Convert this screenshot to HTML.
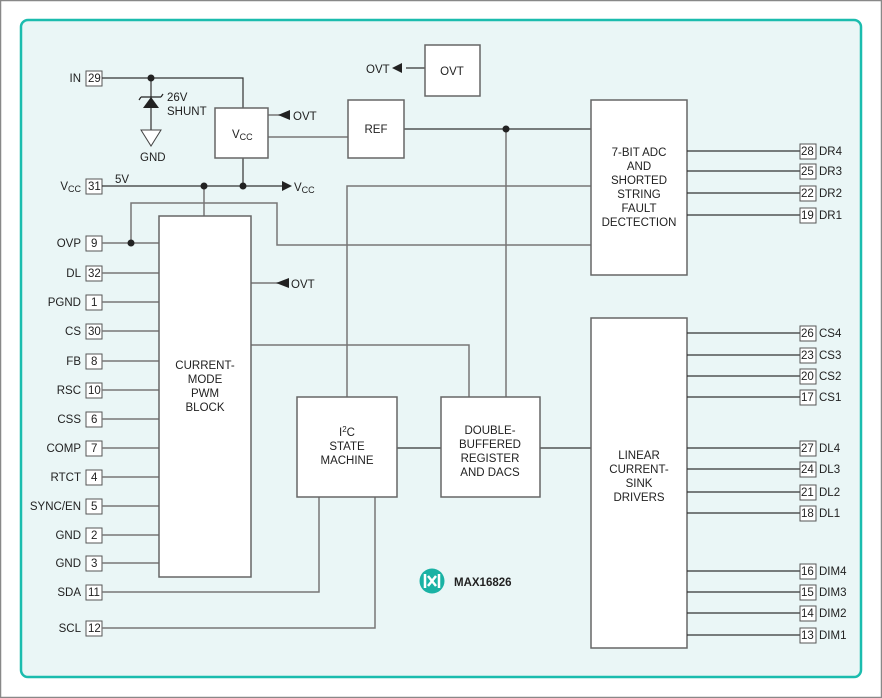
<!DOCTYPE html>
<html><head><meta charset="utf-8"><style>
html,body{margin:0;padding:0;background:#fff}
svg{display:block}
text{font-family:"Liberation Sans",sans-serif;font-size:11.5px;fill:#222}
.b{fill:#fff;stroke:#666;stroke-width:1.5}
.l{stroke:#333;stroke-width:1.2;fill:none}
.g{stroke:#777;stroke-width:1.5;fill:none}
.p{fill:#fff;stroke:#555;stroke-width:1}
</style></head><body>
<svg width="882" height="698" viewBox="0 0 882 698" xmlns="http://www.w3.org/2000/svg">
<rect x="0.5" y="0.5" width="881" height="697" fill="#fff" stroke="#888" stroke-width="1.5"/>
<rect x="21" y="20" width="840" height="657" rx="7" fill="#eaf6f6" stroke="#1bbcae" stroke-width="2.5"/>

<g>
<rect class="p" x="86" y="71" width="16" height="15"/><text x="81" y="82" text-anchor="end">IN</text><text x="88" y="82">29</text>
<rect class="p" x="86" y="179" width="16" height="15"/><text x="81" y="190" text-anchor="end">V<tspan font-size="9" dy="2">CC</tspan></text><text x="88" y="190">31</text>
<rect class="p" x="86" y="236" width="16" height="15"/><text x="81" y="247" text-anchor="end">OVP</text><text x="91" y="247">9</text>
<rect class="p" x="86" y="266" width="16" height="15"/><text x="81" y="277" text-anchor="end">DL</text><text x="88" y="277">32</text>
<rect class="p" x="86" y="295" width="16" height="15"/><text x="81" y="306" text-anchor="end">PGND</text><text x="91" y="306">1</text>
<rect class="p" x="86" y="324" width="16" height="15"/><text x="81" y="335" text-anchor="end">CS</text><text x="88" y="335">30</text>
<rect class="p" x="86" y="354" width="16" height="15"/><text x="81" y="365" text-anchor="end">FB</text><text x="91" y="365">8</text>
<rect class="p" x="86" y="383" width="16" height="15"/><text x="81" y="394" text-anchor="end">RSC</text><text x="88" y="394">10</text>
<rect class="p" x="86" y="412" width="16" height="15"/><text x="81" y="423" text-anchor="end">CSS</text><text x="91" y="423">6</text>
<rect class="p" x="86" y="441" width="16" height="15"/><text x="81" y="452" text-anchor="end">COMP</text><text x="91" y="452">7</text>
<rect class="p" x="86" y="470" width="16" height="15"/><text x="81" y="481" text-anchor="end">RTCT</text><text x="91" y="481">4</text>
<rect class="p" x="86" y="499" width="16" height="15"/><text x="81" y="510" text-anchor="end">SYNC/EN</text><text x="91" y="510">5</text>
<rect class="p" x="86" y="528" width="16" height="15"/><text x="81" y="539" text-anchor="end">GND</text><text x="91" y="539">2</text>
<rect class="p" x="86" y="556" width="16" height="15"/><text x="81" y="567" text-anchor="end">GND</text><text x="91" y="567">3</text>
<rect class="p" x="86" y="585" width="16" height="15"/><text x="81" y="596" text-anchor="end">SDA</text><text x="88" y="596">11</text>
<rect class="p" x="86" y="621" width="16" height="15"/><text x="81" y="632" text-anchor="end">SCL</text><text x="88" y="632">12</text>
</g>
<g class="g">
<path d="M102 243H159M102 273H159M102 302H159M102 331H159M102 361H159M102 390H159M102 419H159M102 448H159M102 477H159M102 506H159M102 535H159M102 563H159"/>
<path d="M102 592H319V497M102 628H375V497"/>
<path d="M131 243V203H277V245H591"/>
<path d="M204 186V216"/>
<path d="M251 345H469V397"/>
<path d="M347 397V186H591"/>
<path d="M506 129V397"/>
<path d="M268 137H348"/>
<path d="M251 283H278M268 115H280"/>
</g>
<g class="l">
<path d="M102 78H243V108M151 78V130"/>
<path d="M102 186H282M243 158V186"/>
<path d="M404 129H591"/>
<path d="M397 448H441M540 448H591"/>
<path d="M406 68H425"/>
</g>
<polygon points="143,108 159,108 151,97" fill="#222"/>
<path d="M141 97H161M141 97l-2 3M161 97l2-3" stroke="#222" stroke-width="1.2" fill="none"/>
<polygon points="141,130 161,130 151,146" fill="#fff" stroke="#444" stroke-width="1"/>
<text x="167" y="101">26V</text><text x="167" y="115">SHUNT</text>
<text x="140" y="161">GND</text>
<g fill="#222"><circle cx="151" cy="78" r="3.5"/><circle cx="204" cy="186" r="3.5"/><circle cx="243" cy="186" r="3.5"/><circle cx="131" cy="243" r="3.5"/><circle cx="506" cy="129" r="3.5"/></g>
<polygon points="282,181 282,191 292,186" fill="#222"/>
<text x="294" y="191">V<tspan font-size="9" dy="2">CC</tspan></text>
<text x="115" y="183">5V</text>
<polygon points="290,110 290,120 278,115" fill="#222"/><text x="293" y="120">OVT</text>
<polygon points="289,278 289,288 276,283" fill="#222"/><text x="291" y="288">OVT</text>
<polygon points="402,63 402,73 392,68" fill="#222"/><text x="366" y="73">OVT</text>
<rect class="b" x="159" y="216" width="92" height="361"/>
<text text-anchor="middle" x="205" y="369">CURRENT-</text><text text-anchor="middle" x="205" y="383">MODE</text><text text-anchor="middle" x="205" y="397">PWM</text><text text-anchor="middle" x="205" y="411">BLOCK</text>
<rect class="b" x="215" y="108" width="53" height="50"/>
<text x="232" y="138">V<tspan font-size="9" dy="2">CC</tspan></text>
<rect class="b" x="348" y="100" width="56" height="58"/><text x="376" y="133" text-anchor="middle">REF</text>
<rect class="b" x="425" y="45" width="55" height="51"/><text x="452" y="75" text-anchor="middle">OVT</text>
<rect class="b" x="591" y="100" width="96" height="175"/>
<g text-anchor="middle"><text x="639" y="156">7-BIT ADC</text><text x="639" y="170">AND</text><text x="639" y="184">SHORTED</text><text x="639" y="198">STRING</text><text x="639" y="212">FAULT</text><text x="639" y="226">DECTECTION</text></g>
<rect class="b" x="591" y="318" width="96" height="330"/>
<g text-anchor="middle"><text x="639" y="459">LINEAR</text><text x="639" y="473">CURRENT-</text><text x="639" y="487">SINK</text><text x="639" y="501">DRIVERS</text></g>
<rect class="b" x="297" y="397" width="100" height="100"/>
<g text-anchor="middle"><text x="347" y="436">I<tspan font-size="8" dy="-4">2</tspan><tspan dy="4">C</tspan></text><text x="347" y="450">STATE</text><text x="347" y="464">MACHINE</text></g>
<rect class="b" x="441" y="397" width="99" height="100"/>
<g text-anchor="middle"><text x="490" y="434">DOUBLE-</text><text x="490" y="448">BUFFERED</text><text x="490" y="462">REGISTER</text><text x="490" y="476">AND DACS</text></g>
<g class="l"><path d="M687 151H800M687 171H800M687 193H800M687 215H800M687 333H800M687 355H800M687 376H800M687 397H800M687 448H800M687 469H800M687 492H800M687 513H800M687 571H800M687 592H800M687 613H800M687 635H800"/></g>
<g>
<rect class="p" x="800" y="144" width="16" height="15"/><text x="801" y="155">28</text><text x="819" y="155">DR4</text>
<rect class="p" x="800" y="164" width="16" height="15"/><text x="801" y="175">25</text><text x="819" y="175">DR3</text>
<rect class="p" x="800" y="186" width="16" height="15"/><text x="801" y="197">22</text><text x="819" y="197">DR2</text>
<rect class="p" x="800" y="208" width="16" height="15"/><text x="801" y="219">19</text><text x="819" y="219">DR1</text>
<rect class="p" x="800" y="326" width="16" height="15"/><text x="801" y="337">26</text><text x="819" y="337">CS4</text>
<rect class="p" x="800" y="348" width="16" height="15"/><text x="801" y="359">23</text><text x="819" y="359">CS3</text>
<rect class="p" x="800" y="369" width="16" height="15"/><text x="801" y="380">20</text><text x="819" y="380">CS2</text>
<rect class="p" x="800" y="390" width="16" height="15"/><text x="801" y="401">17</text><text x="819" y="401">CS1</text>
<rect class="p" x="800" y="441" width="16" height="15"/><text x="801" y="452">27</text><text x="819" y="452">DL4</text>
<rect class="p" x="800" y="462" width="16" height="15"/><text x="801" y="473">24</text><text x="819" y="473">DL3</text>
<rect class="p" x="800" y="485" width="16" height="15"/><text x="801" y="496">21</text><text x="819" y="496">DL2</text>
<rect class="p" x="800" y="506" width="16" height="15"/><text x="801" y="517">18</text><text x="819" y="517">DL1</text>
<rect class="p" x="800" y="564" width="16" height="15"/><text x="801" y="575">16</text><text x="819" y="575">DIM4</text>
<rect class="p" x="800" y="585" width="16" height="15"/><text x="801" y="596">15</text><text x="819" y="596">DIM3</text>
<rect class="p" x="800" y="606" width="16" height="15"/><text x="801" y="617">14</text><text x="819" y="617">DIM2</text>
<rect class="p" x="800" y="628" width="16" height="15"/><text x="801" y="639">13</text><text x="819" y="639">DIM1</text>
</g>
<circle cx="432" cy="581" r="12.5" fill="#1ab2a4"/>
<path d="M425 574v14M439 574v14M428 576l8 10M436 576l-8 10" stroke="#fff" stroke-width="2.5" fill="none"/>
<text x="454" y="586" font-weight="bold" font-size="13">MAX16826</text>
</svg>
</body></html>
